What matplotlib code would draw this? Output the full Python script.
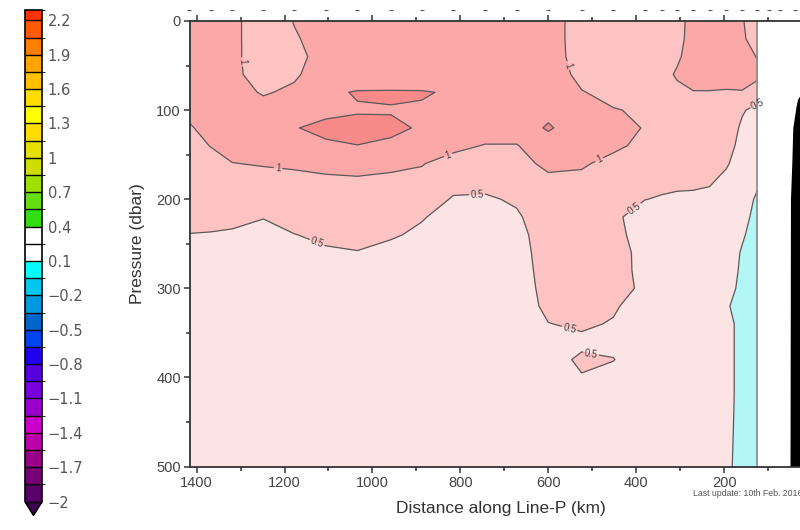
import numpy as np
import matplotlib
matplotlib.use('Agg')
import matplotlib.pyplot as plt
from matplotlib.colors import ListedColormap, BoundaryNorm
from matplotlib.cm import ScalarMappable

plt.rcParams['font.family'] = ['Liberation Sans', 'DejaVu Sans']

# Line-P station positions (km), P26 ... P1
station_km = [1417, 1367, 1319, 1248, 1178, 1106, 1034, 958, 888, 816, 744,
              672, 600, 524, 452, 380, 342, 307, 270, 233, 195, 159, 124,
              97, 72, 38]
# stations with data in the section (P26 ... P4)
section_km = station_km[:23]
pressure = [0, 20, 40, 60, 80, 100, 120, 140, 160, 180, 200, 220, 240,
            260, 280, 300, 320, 340, 360, 380, 400, 420, 440, 460, 480, 500]

# temperature anomaly profiles, one list per station (0 .. 500 dbar)
anomaly = [
    [1.2, 1.2, 1.2, 1.2, 1.2, 1.14, 0.94, 0.8, 0.75, 0.72, 0.68, 0.62, 0.49,
     0.4, 0.35, 0.33, 0.3, 0.3, 0.3, 0.3, 0.3, 0.3, 0.3, 0.3, 0.3, 0.3],
    [1.2, 1.2, 1.2, 1.2, 1.2, 1.2, 1.2, 1.02, 0.8, 0.75, 0.7, 0.6, 0.48,
     0.4, 0.35, 0.33, 0.3, 0.3, 0.3, 0.3, 0.3, 0.3, 0.3, 0.3, 0.3, 0.3],
    [1.15, 1.15, 1.15, 1.15, 1.2, 1.25, 1.25, 1.15, 0.99, 0.8, 0.72, 0.6, 0.45,
     0.4, 0.35, 0.33, 0.3, 0.3, 0.3, 0.3, 0.3, 0.3, 0.3, 0.3, 0.3, 0.3],
    [0.65, 0.65, 0.66, 0.72, 0.95, 1.2, 1.3, 1.2, 1.03, 0.85, 0.7, 0.51, 0.42,
     0.38, 0.35, 0.33, 0.3, 0.3, 0.3, 0.3, 0.3, 0.3, 0.3, 0.3, 0.3, 0.3],
    [1.02, 0.95, 0.85, 0.92, 1.1, 1.35, 1.49, 1.3, 1.08, 0.85, 0.75, 0.65, 0.49,
     0.4, 0.35, 0.33, 0.3, 0.3, 0.3, 0.3, 0.3, 0.3, 0.3, 0.3, 0.3, 0.3],
    [1.2, 1.2, 1.2, 1.3, 1.42, 1.45, 1.55, 1.47, 1.15, 0.9, 0.78, 0.7, 0.58,
     0.45, 0.38, 0.33, 0.3, 0.3, 0.3, 0.3, 0.3, 0.3, 0.3, 0.3, 0.3, 0.3],
    [1.2, 1.2, 1.2, 1.2, 1.53, 1.47, 1.6, 1.495, 1.25, 0.9, 0.8, 0.75, 0.65,
     0.48, 0.4, 0.35, 0.3, 0.3, 0.3, 0.3, 0.3, 0.3, 0.3, 0.3, 0.3, 0.3],
    [1.2, 1.2, 1.15, 1.1, 1.55, 1.479, 1.56, 1.45, 1.15, 0.85, 0.75, 0.65, 0.53,
     0.42, 0.38, 0.34, 0.3, 0.3, 0.3, 0.3, 0.3, 0.3, 0.3, 0.3, 0.3, 0.3],
    [1.2, 1.2, 1.15, 1.1, 1.54, 1.45, 1.47, 1.35, 1.02, 0.9, 0.75, 0.52, 0.45,
     0.38, 0.35, 0.32, 0.3, 0.3, 0.3, 0.3, 0.3, 0.3, 0.3, 0.3, 0.3, 0.3],
    [1.2, 1.2, 1.2, 1.25, 1.445, 1.4, 1.3, 1.1, 0.85, 0.65, 0.46, 0.4, 0.37,
     0.35, 0.33, 0.31, 0.3, 0.3, 0.3, 0.3, 0.3, 0.3, 0.3, 0.3, 0.3, 0.3],
    [1.2, 1.2, 1.2, 1.25, 1.3, 1.3, 1.2, 0.98, 0.8, 0.62, 0.45, 0.4, 0.38,
     0.36, 0.34, 0.3, 0.3, 0.3, 0.3, 0.3, 0.3, 0.3, 0.3, 0.3, 0.3, 0.3],
    [1.2, 1.2, 1.2, 1.25, 1.3, 1.3, 1.2, 0.98, 0.85, 0.7, 0.55, 0.45, 0.39,
     0.36, 0.33, 0.3, 0.26, 0.28, 0.3, 0.3, 0.3, 0.3, 0.3, 0.3, 0.3, 0.3],
    [1.2, 1.2, 1.2, 1.25, 1.3, 1.35, 1.56, 1.25, 1.1, 0.9, 0.78, 0.72, 0.68,
     0.66, 0.65, 0.63, 0.6, 0.49, 0.4, 0.36, 0.33, 0.3, 0.3, 0.3, 0.3, 0.3],
    [0.8, 0.8, 0.82, 0.88, 1.02, 1.2, 1.2, 1.15, 1.05, 0.9, 0.8, 0.75, 0.72,
     0.7, 0.68, 0.65, 0.62, 0.56, 0.42, 0.56, 0.48, 0.35, 0.3, 0.3, 0.3, 0.3],
    [0.78, 0.78, 0.8, 0.82, 0.88, 1.02, 1.2, 1.08, 0.88, 0.75, 0.65, 0.6, 0.62,
     0.62, 0.6, 0.6, 0.55, 0.47, 0.42, 0.51, 0.4, 0.33, 0.3, 0.3, 0.3, 0.3],
    [0.75, 0.75, 0.78, 0.82, 0.88, 0.95, 0.97, 0.9, 0.8, 0.68, 0.51, 0.27, 0.33,
     0.41, 0.43, 0.45, 0.31, 0.3, 0.3, 0.32, 0.3, 0.3, 0.3, 0.3, 0.3, 0.3],
    [0.75, 0.78, 0.8, 0.85, 0.88, 0.88, 0.85, 0.8, 0.72, 0.62, 0.46, 0.35, 0.32,
     0.3, 0.3, 0.3, 0.3, 0.3, 0.3, 0.3, 0.3, 0.3, 0.3, 0.3, 0.3, 0.3],
    [0.85, 0.88, 0.93, 1.05, 0.9, 0.88, 0.85, 0.8, 0.72, 0.6, 0.42, 0.33, 0.3,
     0.3, 0.3, 0.3, 0.3, 0.3, 0.3, 0.3, 0.3, 0.3, 0.3, 0.3, 0.3, 0.3],
    [1.15, 1.15, 1.2, 1.2, 0.98, 0.88, 0.85, 0.8, 0.72, 0.6, 0.4, 0.33, 0.3,
     0.3, 0.3, 0.3, 0.3, 0.3, 0.3, 0.3, 0.3, 0.3, 0.3, 0.3, 0.3, 0.3],
    [1.2, 1.2, 1.2, 1.2, 0.98, 0.88, 0.85, 0.8, 0.7, 0.55, 0.38, 0.3, 0.28,
     0.26, 0.25, 0.25, 0.25, 0.25, 0.25, 0.25, 0.25, 0.25, 0.25, 0.25, 0.25, 0.25],
    [1.2, 1.2, 1.2, 1.15, 0.97, 0.85, 0.78, 0.68, 0.55, 0.38, 0.3, 0.25, 0.2,
     0.18, 0.15, 0.12, 0.03, 0.1, 0.1, 0.1, 0.1, 0.1, 0.09, 0.08, 0.07, 0.06],
    [1.02, 1.05, 1.15, 1.15, 0.98, 0.55, 0.42, 0.35, 0.28, 0.2, 0.15, 0.1, 0.04,
     -0.03, -0.05, -0.08, -0.1, -0.1, -0.1, -0.1, -0.1, -0.1, -0.1, -0.1, -0.1, -0.1],
    [0.85, 0.85, 0.98, 1.1, 0.8, 0.35, 0.3, 0.25, 0.15, 0.05, -0.05, -0.1, -0.15,
     -0.15, -0.15, -0.15, -0.15, -0.15, -0.15, -0.15, -0.15, -0.15, -0.15, -0.15, -0.15, -0.15],
]

# shelf / bottom outline near the coast
land_pressure = [84, 88, 95, 120, 160, 200, 500]
land_edge_km = [28, 33, 36, 43.7, 46, 49, 50]

fill_levels = [-1, 0, 0.5, 1, 1.5, 2]
fill_colors = ['#b2f6f6', '#fde4e4', '#fdc2c2', '#fca8a8', '#f98a8a']

# where the contour labels sit (km, dbar)
label_km = [1299, 1215, 828, 566, 482, 1126, 762, 402, 552, 504, 129]
label_p = [46, 167, 150, 52, 158, 249, 193, 212, 346, 379, 86]

# colour key
cb_bounds = [-2, -1.85, -1.7, -1.55, -1.4, -1.25, -1.1, -0.95, -0.8, -0.65,
             -0.5, -0.35, -0.2, -0.05, 0.1, 0.25, 0.4, 0.55, 0.7, 0.85, 1.0,
             1.15, 1.3, 1.45, 1.6, 1.75, 1.9, 2.05, 2.2, 2.29]
cb_colors = ['#550066', '#770077', '#990088', '#bb00aa', '#cc00cc', '#9900cc',
             '#7700dd', '#5500dd', '#2200ee', '#0044ee', '#0066cc', '#0099dd',
             '#00c8f0', '#00ffff', '#ffffff', '#ffffff', '#33dd11', '#66dd11',
             '#a0e000', '#ccdd00', '#e5e000', '#ffdd00', '#ffff00', '#ffdd00',
             '#ffc000', '#ffa500', '#ff7f00', '#ff5a00', '#ff3300']
cb_ticks = [2.2, 1.9, 1.6, 1.3, 1.0, 0.7, 0.4, 0.1, -0.2, -0.5, -0.8, -1.1,
            -1.4, -1.7, -2]
cb_labels = ['2.2', '1.9', '1.6', '1.3', '1', '0.7', '0.4', '0.1', '\u22120.2',
             '\u22120.5', '\u22120.8', '\u22121.1', '\u22121.4', '\u22121.7', '\u22122']

x_major = [1400, 1200, 1000, 800, 600, 400, 200]
x_minor = [1300, 1100, 900, 700, 500, 300, 100]
y_major = [0, 100, 200, 300, 400, 500]
y_minor = [50, 150, 250, 350, 450]

fig = plt.figure(figsize=(8, 5.3), dpi=100)
ax = fig.add_axes([0.2375, 0.1198, 0.7775, 0.8406])

Z = np.array(anomaly).T
ax.contourf(section_km, pressure, Z, levels=fill_levels, colors=fill_colors)
cs = ax.contour(section_km, pressure, Z, levels=[0, 0.5, 1.0, 1.5],
                colors='#5a5a5a', linewidths=0.9)
ax.clabel(cs, levels=[0, 0.5, 1.0], fmt={0: '0', 0.5: '0.5', 1.0: '1'},
          fontsize=7, colors='#444444', inline=True, inline_spacing=2,
          manual=list(zip(label_km, label_p)))

# edge of sampled section
ax.axvline(section_km[-1], color='#8a8a8a', lw=1.2)
ax.fill_betweenx(land_pressure, land_edge_km, 0, color='black', lw=0)

# station markers above the plot
ax.plot(station_km, [-12] * len(station_km), ls='none', marker='_', ms=3,
        mew=0.8, color='#555555', clip_on=False)

ax.set_xlim(1415, 0)
ax.set_ylim(500, 0)
ax.set_xticks(x_major)
ax.set_xticks(x_minor, minor=True)
ax.set_yticks(y_major)
ax.set_yticks(y_minor, minor=True)
ax.tick_params(which='both', direction='out', top=True, right=False,
               colors='#333333', labelcolor='#444444', labelsize=10.5, width=1.1)
ax.tick_params(which='major', length=4, pad=2.5)
ax.tick_params(which='minor', length=3)
for side in ['left', 'bottom', 'top']:
    ax.spines[side].set_color('#333333')
    ax.spines[side].set_linewidth(1.3)
ax.spines['right'].set_visible(False)

ax.set_xlabel('Distance along Line-P (km)', fontsize=12.5, color='#333333', labelpad=8)
ax.set_ylabel('Pressure (dbar)', fontsize=12.5, color='#333333', labelpad=8)

fig.text(693 / 800, 1 - 493 / 530, 'Last update: 10th Feb. 2016', fontsize=6.3,
         color='#555555', va='center', ha='left')

# colour bar on the left
cax = fig.add_axes([0.03125, 0.0277, 0.02125, 0.9534])
cmap = ListedColormap(cb_colors)
cmap.set_under('#440055')
norm = BoundaryNorm(cb_bounds, cmap.N)
cb = fig.colorbar(ScalarMappable(norm=norm, cmap=cmap), cax=cax, extend='min',
                  extendfrac=0.028, spacing='proportional', drawedges=True)
cb.set_ticks(cb_ticks, labels=cb_labels)
cb.outline.set_linewidth(1.2)
cb.dividers.set_linewidth(1.0)
cax.tick_params(length=0, pad=4, labelsize=10.5, labelcolor='#555555')
for lab in cax.get_yticklabels():
    lab.set_family('DejaVu Sans')

fig.savefig('out.png', dpi=100)
